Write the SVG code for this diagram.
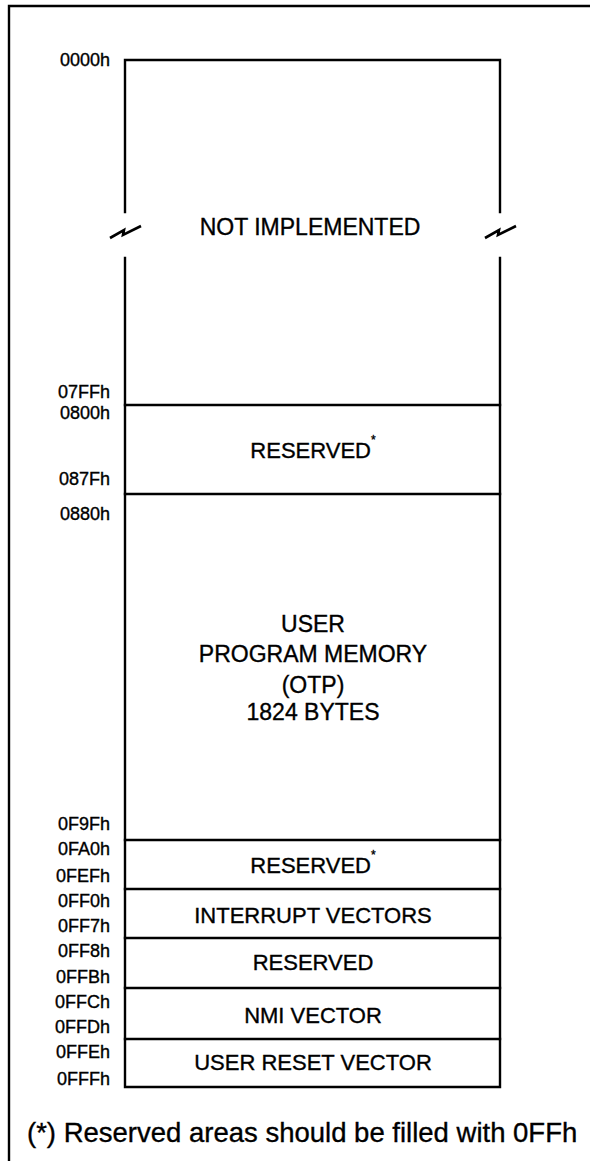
<svg xmlns="http://www.w3.org/2000/svg" width="590" height="1161" viewBox="0 0 590 1161">
<style>
.ln{stroke:#000;stroke-width:2.4;fill:none;stroke-linecap:square}
.br{stroke:#000;stroke-width:2.6;fill:none;stroke-linejoin:miter}
text{font-family:"Liberation Sans",Arial,sans-serif;fill:#000;stroke:#000;stroke-width:0.35}
.addr{font-size:18px;text-anchor:end}
.lbl{font-size:22px;text-anchor:middle}
.big{font-size:23px;text-anchor:middle}
.note{font-size:27.5px}
</style>
<rect width="590" height="1161" fill="#fff"/>
<g id="frame">
<path class="ln" d="M9 1161 V6 H590"/>
</g>
<g id="connectors"></g>
<g id="not-implemented">
<path class="ln" d="M125 212 V60 H500 V212"/>
<path class="ln" d="M125 258 V405 M500 258 V405"/>
<path class="br" d="M110 238 L124 230 L123 235 L141 226"/>
<path class="br" d="M485 238 L499 230 L498 235 L516 226"/>
<text class="big" x="310" y="235">NOT IMPLEMENTED</text>
<text class="addr" x="110" y="66">0000h</text>
<text class="addr" x="110" y="398">07FFh</text>
</g>
<g id="reserved-1">
<path class="ln" d="M125 405 H500 M125 405 V494 M500 405 V494"/>
<text class="lbl" x="313" y="458">RESERVED<tspan font-size="12" dy="-14">*</tspan></text>
<text class="addr" x="110" y="419">0800h</text>
<text class="addr" x="110" y="485">087Fh</text>
</g>
<g id="user-program-memory">
<path class="ln" d="M125 494 H500 M125 494 V840 M500 494 V840"/>
<text class="big" x="313" y="632">USER</text>
<text class="big" x="313" y="662">PROGRAM MEMORY</text>
<text class="big" x="313" y="693">(OTP)</text>
<text class="big" x="313" y="720">1824 BYTES</text>
<text class="addr" x="110" y="520">0880h</text>
<text class="addr" x="110" y="830">0F9Fh</text>
</g>
<g id="reserved-2">
<path class="ln" d="M125 840 H500 M125 840 V889 M500 840 V889"/>
<text class="lbl" x="313" y="873">RESERVED<tspan font-size="12" dy="-14">*</tspan></text>
<text class="addr" x="110" y="855">0FA0h</text>
<text class="addr" x="110" y="882">0FEFh</text>
</g>
<g id="interrupt-vectors">
<path class="ln" d="M125 889 H500 M125 889 V938 M500 889 V938"/>
<text class="lbl" x="313" y="923">INTERRUPT VECTORS</text>
<text class="addr" x="110" y="907">0FF0h</text>
<text class="addr" x="110" y="932">0FF7h</text>
</g>
<g id="reserved-3">
<path class="ln" d="M125 938 H500 M125 938 V988 M500 938 V988"/>
<text class="lbl" x="313" y="970">RESERVED</text>
<text class="addr" x="110" y="957">0FF8h</text>
<text class="addr" x="110" y="983">0FFBh</text>
</g>
<g id="nmi-vector">
<path class="ln" d="M125 988 H500 M125 988 V1039 M500 988 V1039"/>
<text class="lbl" x="313" y="1023">NMI VECTOR</text>
<text class="addr" x="110" y="1008">0FFCh</text>
<text class="addr" x="110" y="1033">0FFDh</text>
</g>
<g id="user-reset-vector">
<path class="ln" d="M125 1039 H500 V1087 H125 Z"/>
<text class="lbl" x="313" y="1070">USER RESET VECTOR</text>
<text class="addr" x="110" y="1058">0FFEh</text>
<text class="addr" x="110" y="1085">0FFFh</text>
</g>
<g id="footnote">
<text class="note" x="27" y="1142">(*) Reserved areas should be filled with 0FFh</text>
</g>
</svg>
